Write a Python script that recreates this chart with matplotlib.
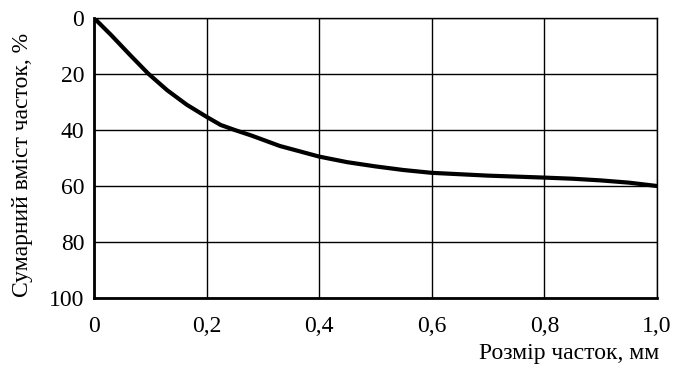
import matplotlib
matplotlib.use("Agg")
import matplotlib.pyplot as plt

# розмір часток, мм
size_mm = [0.0, 0.03, 0.064, 0.096, 0.13, 0.165, 0.2, 0.225, 0.25, 0.28, 0.33,
           0.4, 0.45, 0.5, 0.55, 0.6, 0.7, 0.8, 0.85, 0.9, 0.95, 1.0]
# сумарний вміст часток, %
content_pct = [0.0, 6.0, 13.2, 19.8, 25.8, 31.0, 35.3, 38.2, 40.0, 42.0, 45.7,
               49.5, 51.5, 53.0, 54.3, 55.3, 56.3, 57.0, 57.4, 58.0, 58.8, 60.0]

x_ticks = [0.0, 0.2, 0.4, 0.6, 0.8, 1.0]
x_tick_labels = ["0", "0,2", "0,4", "0,6", "0,8", "1,0"]
y_ticks = [0, 20, 40, 60, 80, 100]

plt.rcParams['font.family'] = ['Liberation Serif', 'DejaVu Serif']

fig = plt.figure(figsize=(6.73, 3.71), dpi=100)
ax = fig.add_axes([94 / 673, 73 / 371, 563 / 673, 280 / 371])

ax.plot(size_mm, content_pct, color='black', lw=3.0, solid_capstyle='round',
        solid_joinstyle='round', zorder=3)

ax.set_xlim(0, 1.0)
ax.set_ylim(100, 0)
ax.set_xticks(x_ticks)
ax.set_xticklabels(x_tick_labels)
ax.set_yticks(y_ticks)
ax.grid(True, color='black', lw=1.0)
ax.tick_params(length=0, labelsize=17)
ax.tick_params(axis='x', pad=13)
ax.tick_params(axis='y', pad=7)

for side in ['top', 'right']:
    ax.spines[side].set_linewidth(1.0)
for side in ['left', 'bottom']:
    ax.spines[side].set_linewidth(2.0)

fig.text(23 / 673, 1 - 165 / 371, "Сумарний вміст часток, %", rotation=90,
         ha='center', va='center', fontsize=17)
fig.text(659 / 673, 1 - 353 / 371, "Розмір часток, мм", ha='right',
         va='center', fontsize=17)

fig.savefig("out.png", dpi=100)
